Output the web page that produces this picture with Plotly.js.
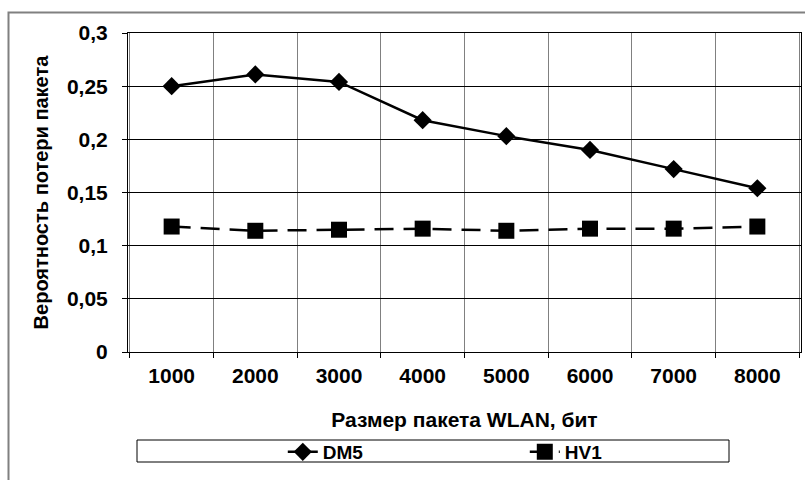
<!DOCTYPE html>
<html>
<head>
<meta charset="utf-8">
<script src="https://cdn.plot.ly/plotly-3.0.1.min.js"></script>
<style>html,body{margin:0;padding:0;background:#fff}#chart{width:805px;height:480px}</style>
</head>
<body>
<div id="chart"></div>
<script>
const categories = ["1000","2000","3000","4000","5000","6000","7000","8000"];
const dm5 = [0.250, 0.261, 0.254, 0.218, 0.203, 0.190, 0.172, 0.154];
const hv1 = [0.118, 0.114, 0.115, 0.116, 0.114, 0.116, 0.116, 0.118];
const yTickVals = [0, 0.05, 0.1, 0.15, 0.2, 0.25, 0.3];
const yTickLabels = ["0", "0,05", "0,1", "0,15", "0,2", "0,25", "0,3"];

const FONT = "Liberation Sans, Arial, sans-serif";

const traces = [
  {
    x: categories, y: dm5, name: "DM5", type: "scatter", mode: "lines+markers",
    line: {color: "#000", width: 2.5},
    marker: {symbol: "diamond", size: 14, color: "#000"}
  },
  {
    x: categories, y: hv1, name: "HV1", type: "scatter", mode: "lines+markers",
    line: {color: "#000", width: 2.5, dash: "19px,10px"},
    marker: {symbol: "square", size: 16, color: "#000"}
  }
];

const layout = {
  width: 805, height: 480,
  margin: {l: 128, r: 4, t: 33, b: 128},
  paper_bgcolor: "#fff", plot_bgcolor: "#fff",
  font: {family: FONT, size: 21, color: "#000", weight: "bold"},
  showlegend: true,
  legend: {
    orientation: "h", x: 0.23, xanchor: "left", y: -0.3135, yanchor: "middle",
    bgcolor: "rgba(0,0,0,0)", borderwidth: 0,
    entrywidth: 197, entrywidthmode: "pixels",
    font: {family: FONT, size: 19, color: "#000", weight: "bold"}
  },
  xaxis: {
    type: "category", tickson: "boundaries", ticks: "outside", ticklen: 5,
    tickcolor: "#000", showgrid: true, gridcolor: "#808080", gridwidth: 1,
    showline: true, mirror: true, linecolor: "#000", linewidth: 1,
    ticklabelstandoff: 5,
    tickfont: {family: FONT, size: 21, color: "#000", weight: "bold"},
    title: {text: "Размер пакета WLAN, бит", standoff: 26,
            font: {family: FONT, size: 21, color: "#000", weight: "bold"}}
  },
  yaxis: {
    range: [0, 0.3], tickvals: yTickVals, ticktext: yTickLabels,
    ticks: "outside", ticklen: 5, tickcolor: "#000",
    showgrid: true, gridcolor: "#000", gridwidth: 1, zeroline: false,
    showline: true, mirror: true, linecolor: "#000", linewidth: 1,
    ticklabelstandoff: 10,
    tickfont: {family: FONT, size: 21, color: "#000", weight: "bold"},
    title: {text: "Вероятность потери пакета", standoff: 12,
            font: {family: FONT, size: 20, color: "#000", weight: "bold"}}
  },
  shapes: [
    {type: "rect", xref: "paper", yref: "paper",
     x0: (8.5 - 128) / 673, x1: 1.2, y0: -0.6, y1: (352 - 12.5) / 319,
     line: {color: "#808080", width: 2}, fillcolor: "rgba(0,0,0,0)", layer: "below"},
    {type: "rect", xref: "paper", yref: "paper",
     x0: (137 - 128) / 673, x1: (729 - 128) / 673,
     y0: (352 - 462) / 319, y1: (352 - 440) / 319,
     line: {color: "#000", width: 1}, fillcolor: "rgba(0,0,0,0)", layer: "below"}
  ]
};

Plotly.newPlot("chart", traces, layout, {displayModeBar: false, staticPlot: true});
</script>
</body>
</html>
